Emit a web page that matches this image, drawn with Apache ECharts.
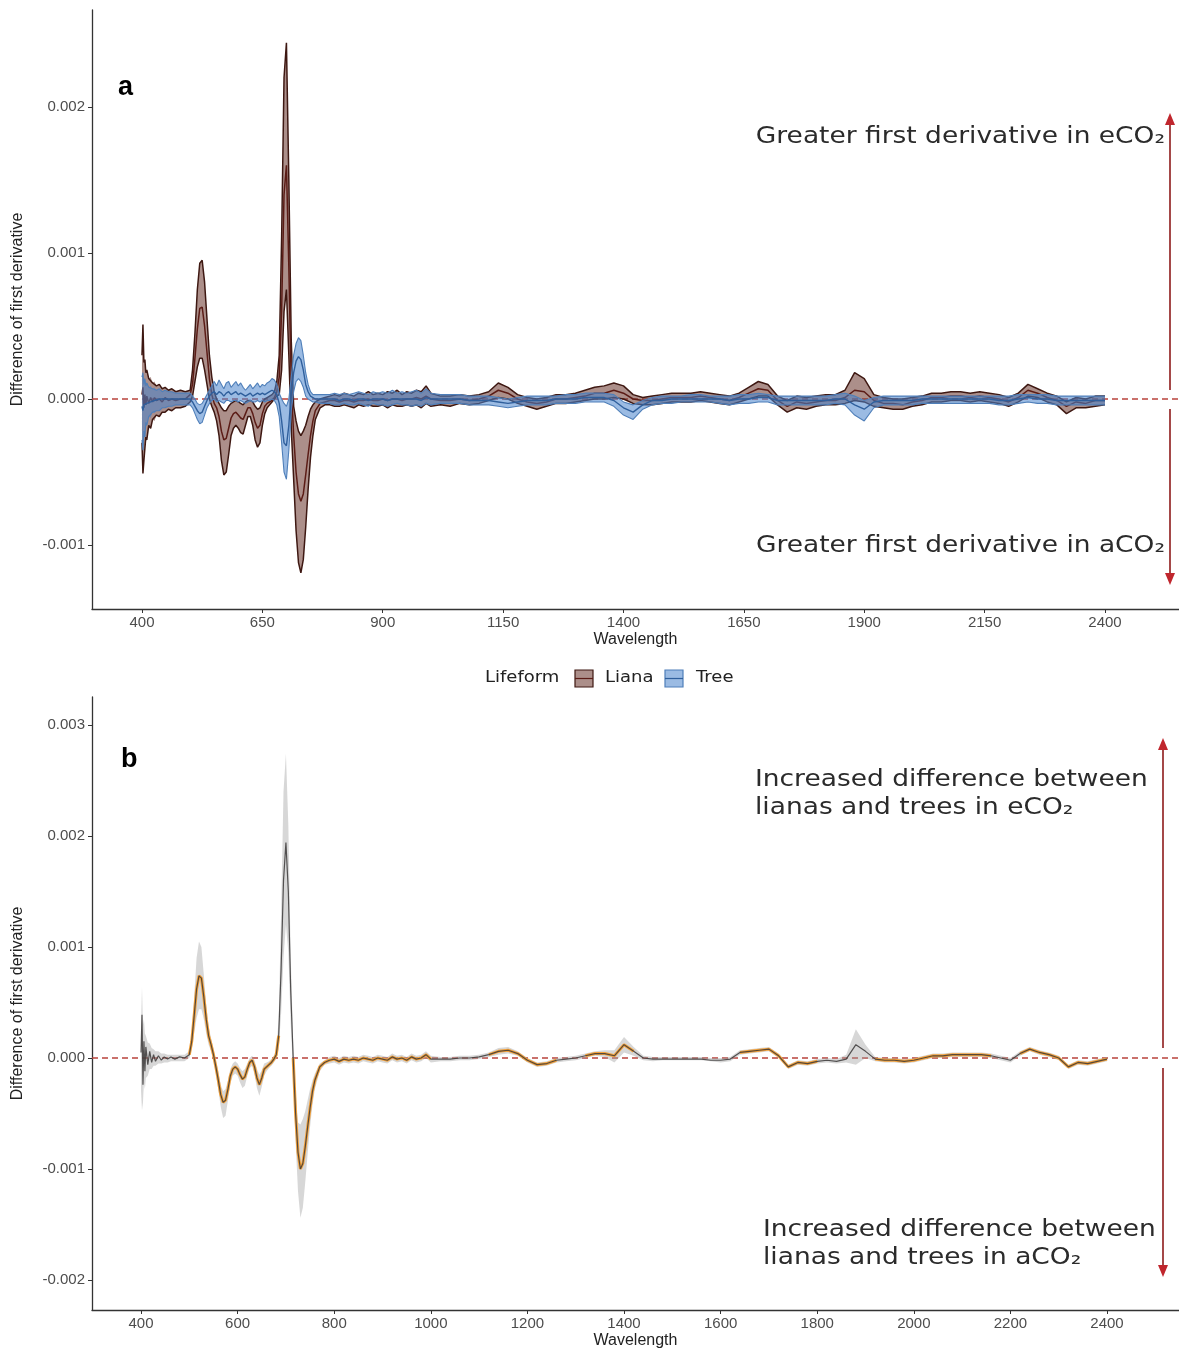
<!DOCTYPE html>
<html>
<head>
<meta charset="utf-8">
<script src="https://cdn.jsdelivr.net/npm/echarts@6/dist/echarts.min.js"></script>
<style>
  html, body { margin: 0; padding: 0; background: #ffffff; }
  #chart { width: 1179px; height: 1351px; }
</style>
</head>
<body>
<div id="chart"></div>
<script>
// Wavelength grid (nm) shared by every series below
const WAVELENGTH = [
  400, 402, 404, 406, 408, 410, 414, 418, 422, 426, 430, 436, 442, 448, 455, 462, 470, 480, 490,
  500, 505, 510, 515, 520, 525, 530, 535, 540, 545, 550, 555, 560, 565, 570, 575, 580, 585, 590, 595,
  600, 605, 610, 615, 620, 625, 630, 635, 640, 645, 650, 655, 660, 665, 670, 675, 680, 685, 690, 695,
  700, 705, 710, 715, 720, 725, 730, 735, 740, 745, 750, 755, 760, 770, 780,
  790, 800, 810, 820, 830, 840, 850, 860, 870, 880, 890, 900, 910, 920, 930, 940, 950, 960, 970, 980, 990, 1000,
  1020, 1040, 1060, 1080, 1100, 1120, 1140, 1160, 1180, 1200, 1220, 1240, 1260, 1280, 1300, 1320, 1340, 1360, 1380, 1400,
  1420, 1440, 1460, 1480, 1500, 1520, 1540, 1560, 1580, 1600, 1620, 1640, 1660, 1680, 1700, 1720, 1740, 1760, 1780, 1800,
  1820, 1840, 1860, 1880, 1900, 1920, 1940, 1960, 1980, 2000, 2020, 2040, 2060, 2080, 2100, 2120, 2140, 2160, 2180, 2200,
  2220, 2240, 2260, 2280, 2300, 2320, 2340, 2360, 2380, 2400
];

// All derivative differences are stored in units of 1e-5
const UNIT = 1e-5;

// Panel a: liana (eCO2 - aCO2) first-derivative difference, upper / mean / lower
const LIANA_UPPER = [
  30, 51, 25, 27, 18, 20, 14, 15, 11, 12, 9, 10, 7, 8, 6, 7, 5, 6, 5,
  6, 20, 45, 75, 93, 95, 80, 55, 30, 15, 5, 0, -3, -6, -8, -8, -5, -3, -2, -1,
  -2, -3, -4, -2, -1, -1, -2, -5, -7, -6, -2, 0, 1, 2, 3, 5, 12, 30, 110, 220,
  244, 150, 40, -5, -15, -22, -25, -22, -18, -12, -7, -4, -2, 0, 1,
  2, 3, 2, 4, 3, 2, 4, 3, 5, 3, 4, 3, 5, 4, 6, 3, 5, 4, 6, 5, 9, 4,
  2, 2, 3, 2, 3, 5, 11, 8, 3, 1, 0, 1, 3, 3, 4, 6, 8, 9, 11, 9,
  3, 1, 2, 3, 4, 4, 4, 5, 4, 3, 2, 4, 8, 12, 10, 2, -1, 2, 1, 2,
  3, 3, 6, 18, 14, 3, 1, 0, 0, 1, 2, 4, 4, 5, 5, 4, 5, 4, 3, 1,
  4, 10, 7, 4, 2, -2, 1, 0, 2, 2
];
const LIANA_MEAN = [
  3, 8, -6, 3, -4, 2, -3, 1, -2, 1, -1, 0, -2, 1, -1, 0, -1, 0, 0,
  3, 10, 28, 48, 62, 63, 50, 32, 14, 3, -3, -6, -12, -22, -28, -27, -20, -13, -10, -9,
  -11, -13, -14, -10, -6, -6, -10, -16, -20, -18, -10, -5, -3, -2, -1, 1, 5, 15, 60, 140,
  160, 90, 10, -25, -50, -65, -70, -65, -52, -38, -25, -15, -8, -3, -2,
  -1, -1, -2, -1, -1, -2, -1, -1, 0, -1, -1, 0, -1, 0, 0, -1, 0, 0, 1, 0, 2, 0,
  -1, -1, 0, -1, 0, 2, 6, 4, 0, -2, -3, -2, 0, 0, 1, 2, 4, 4, 6, 4,
  0, -1, -1, 0, 1, 1, 1, 2, 1, 0, -1, 1, 4, 7, 6, -1, -5, -2, -3, -2,
  -1, -1, 1, 6, 5, -1, -3, -3, -4, -2, -1, 1, 1, 2, 2, 1, 2, 1, 0, -2,
  1, 6, 4, 1, -1, -5, -2, -3, -1, -1
];
const LIANA_LOWER = [
  -30, -51, -42, -34, -26, -28, -18, -20, -14, -15, -11, -12, -9, -9, -7, -8, -6, -6, -5,
  -2, 2, 12, 22, 28, 28, 20, 10, 0, -5, -9, -15, -25, -42, -52, -50, -38, -25, -20, -18,
  -20, -23, -24, -18, -12, -12, -18, -28, -33, -30, -18, -10, -6, -4, -2, 0, 2, 3, 20, 60,
  75, 30, -20, -55, -90, -112, -119, -110, -88, -62, -40, -25, -14, -6, -4,
  -4, -5, -5, -4, -5, -6, -4, -5, -4, -5, -5, -4, -6, -4, -5, -5, -4, -5, -4, -6, -3, -5,
  -4, -5, -3, -4, -3, -1, 1, 0, -3, -5, -7, -5, -3, -3, -2, -1, 0, 0, 1, 0,
  -3, -4, -4, -3, -2, -2, -2, -1, -2, -3, -4, -2, 0, 2, 2, -4, -9, -6, -7, -5,
  -4, -4, -3, -1, -2, -5, -6, -7, -7, -5, -4, -2, -2, -1, -1, -2, -1, -2, -3, -5,
  -2, 2, 1, -2, -4, -10, -6, -6, -5, -4
];

// Panel a: tree first-derivative difference, upper / mean / lower
const TREE_UPPER = [
  15, 18, 10, 14, 9, 11, 8, 9, 7, 8, 6, 7, 5, 6, 5, 5, 4, 4, 4,
  4, 2, 0, -3, -4, -3, 0, 3, 6, 9, 12, 9, 13, 10, 7, 11, 12, 8, 10, 12,
  9, 11, 8, 6, 8, 10, 7, 9, 11, 8, 10, 9, 11, 12, 14, 13, 10, 4, 0, -3,
  -5, 0, 15, 30, 38, 42, 40, 30, 18, 10, 5, 3, 3, 3, 3,
  3, 4, 3, 4, 3, 4, 5, 4, 3, 5, 4, 5, 4, 6, 4, 5, 4, 5, 6, 4, 7, 4,
  3, 3, 3, 2, 2, 2, 1, 0, 1, 2, 2, 2, 2, 3, 3, 4, 4, 4, 3, -2,
  -4, -1, 1, 2, 2, 2, 3, 3, 2, 2, 2, 3, 3, 4, 3, 2, 2, 2, 2, 2,
  2, 3, 4, 2, -1, 1, 2, 2, 2, 2, 2, 2, 2, 2, 2, 2, 2, 2, 2, 2,
  3, 3, 3, 3, 2, 2, 2, 2, 2, 2
];
const TREE_MEAN = [
  -5, -8, -4, -5, -3, -3, -2, -2, -1, -1, -1, 0, 0, 0, 0, 0, 0, 0, 0,
  0, -2, -5, -8, -10, -9, -5, -1, 2, 4, 5, 3, 5, 4, 2, 4, 5, 3, 4, 5,
  3, 4, 3, 2, 3, 4, 2, 3, 4, 3, 4, 3, 4, 5, 6, 5, 3, -3, -15, -30,
  -32, -18, 5, 18, 26, 29, 27, 20, 10, 5, 2, 1, 0, 0, 0,
  0, 0, -1, 0, 0, -1, 0, 0, -1, 0, 0, 0, -1, 0, 0, 0, 0, 0, 0, -1, 1, 0,
  0, 0, 0, -1, -1, -1, -2, -3, -2, -1, -1, -1, 0, 0, 0, 1, 1, 1, -1, -6,
  -9, -4, -1, -1, 0, 0, 0, 0, 0, 0, -1, 0, 0, 1, 1, -1, -1, -1, -1, -1,
  -1, 0, 0, -4, -7, -2, -1, -1, -1, -1, 0, 0, 0, 0, 0, 0, 0, 0, -1, -1,
  0, 1, 0, 0, -1, -1, -1, -1, -1, -1
];
const TREE_LOWER = [
  -28, -35, -22, -26, -16, -18, -12, -13, -9, -10, -8, -8, -6, -6, -5, -5, -4, -4, -4,
  -4, -6, -10, -14, -17, -16, -11, -6, -3, -1, 0, -2, -1, -2, -3, -1, -1, -2, -1, -1,
  -2, -1, -2, -3, -2, -1, -2, -2, -1, -2, -1, -2, -1, -1, 0, -1, -4, -12, -30, -50,
  -55, -35, -8, 5, 12, 14, 12, 8, 2, 0, -1, -2, -2, -3, -3,
  -3, -4, -4, -3, -4, -4, -3, -4, -5, -3, -4, -4, -5, -4, -3, -4, -4, -5, -4, -5, -3, -4,
  -3, -3, -3, -4, -4, -4, -5, -6, -5, -4, -4, -4, -3, -3, -3, -2, -2, -2, -5, -11,
  -14, -7, -4, -3, -3, -2, -2, -2, -2, -3, -4, -3, -3, -2, -2, -4, -4, -4, -4, -4,
  -4, -3, -4, -11, -15, -6, -4, -4, -4, -4, -3, -3, -3, -3, -3, -3, -3, -3, -4, -4,
  -3, -2, -3, -3, -4, -4, -4, -4, -4, -4
];

// Panel b: liana-minus-tree difference (eCO2 vs aCO2), mean and confidence band
const DIFF_MEAN = [
  5, 39, -24, 15, -12, 10, -6, 6, -4, 3, -3, 2, -2, 1, -1, 1, -1, 1, 0,
  3, 15, 38, 62, 74, 72, 55, 35, 20, 12, 3, -8, -20, -33, -40, -38, -28, -16, -10, -8,
  -10, -15, -19, -17, -10, -4, -2, -8, -18, -24, -18, -10, -8, -6, -4, -1, 3, 20, 80, 160,
  194, 150, 60, 0, -50, -85, -100, -95, -80, -62, -45, -30, -20, -8, -4,
  -2, -1, -3, -1, -2, -1, -2, 0, -1, -2, 0, -1, -2, 1, -1, 0, -2, 1, -1, 0, 3, -1,
  -1, -1, 0, 0, 1, 3, 6, 7, 4, -2, -6, -5, -2, -1, 0, 2, 4, 4, 2, 12,
  6, 0, -1, -1, -1, -1, -1, -1, -2, -2, -1, 5, 6, 7, 8, 2, -8, -4, -5, -3,
  -2, -3, -1, 12, 6, -1, -2, -2, -3, -2, 0, 2, 2, 3, 3, 3, 3, 2, 0, -2,
  4, 8, 5, 3, 0, -8, -4, -5, -3, -1
];
const DIFF_UPPER = [
  30, 64, 30, 35, 22, 20, 14, 13, 9, 8, 6, 6, 4, 4, 3, 3, 3, 3, 3,
  6, 22, 55, 90, 105, 100, 75, 48, 28, 18, 8, -3, -12, -24, -30, -28, -20, -10, -5, -3,
  -5, -9, -12, -10, -5, 0, 2, -2, -10, -15, -11, -5, -4, -3, -1, 2, 8, 35, 130, 240,
  274, 210, 90, 15, -30, -58, -60, -55, -48, -38, -28, -20, -14, -5, -2,
  1, 2, 0, 2, 1, 2, 1, 3, 2, 1, 3, 2, 1, 4, 2, 3, 1, 4, 2, 3, 6, 2,
  1, 1, 2, 2, 3, 5, 9, 10, 6, 0, -4, -3, 0, 1, 2, 4, 6, 7, 7, 19,
  10, 2, 1, 1, 1, 1, 1, 1, 0, 0, 1, 7, 8, 9, 10, 4, -6, -2, -3, -1,
  0, -1, 3, 26, 12, 1, 0, 0, -1, 0, 2, 4, 4, 5, 5, 5, 5, 4, 2, 0,
  6, 10, 7, 5, 2, -6, -2, -3, -1, 1
];
const DIFF_LOWER = [
  -30, -47, -40, -22, -28, -18, -16, -10, -10, -7, -7, -5, -5, -4, -4, -3, -3, -3, -3,
  0, 8, 22, 36, 44, 44, 35, 22, 12, 6, -2, -14, -28, -44, -54, -52, -38, -23, -16, -14,
  -16, -22, -27, -25, -16, -9, -7, -15, -27, -34, -26, -16, -12, -9, -7, -4, -1, 8, 40, 90,
  120, 95, 30, -15, -75, -120, -144, -135, -112, -86, -62, -42, -28, -12, -6,
  -5, -4, -6, -4, -5, -4, -5, -3, -4, -5, -3, -4, -5, -2, -4, -3, -5, -2, -4, -3, 0, -4,
  -3, -3, -2, -2, -1, 1, 3, 4, 2, -4, -8, -7, -4, -3, -2, 0, 2, 1, -4, 5,
  2, -2, -3, -2, -2, -2, -2, -2, -3, -4, -3, 3, 4, 5, 6, 0, -10, -6, -7, -5,
  -4, -5, -4, -6, 0, -3, -4, -4, -5, -4, -2, 0, 0, 1, 1, 1, 1, 0, -2, -4,
  2, 6, 3, 1, -2, -10, -6, -7, -5, -3
];
// 1 where the panel-b difference is flagged significant (drawn in orange)
const DIFF_SIGNIFICANT = [
  0, 0, 0, 0, 0, 0, 0, 0, 0, 0, 0, 0, 0, 0, 0, 0, 0, 0, 0,
  1, 1, 1, 1, 1, 1, 1, 1, 1, 1, 1, 1, 1, 1, 1, 1, 1, 1, 1, 1,
  1, 1, 1, 1, 1, 1, 1, 1, 1, 1, 1, 1, 1, 1, 1, 1, 1, 1, 0, 0,
  0, 0, 0, 1, 1, 1, 1, 1, 1, 1, 1, 1, 1, 1, 1,
  1, 1, 1, 1, 1, 1, 1, 1, 1, 1, 1, 1, 1, 1, 1, 1, 1, 1, 1, 1, 1, 1,
  0, 0, 0, 0, 0, 1, 1, 1, 1, 1, 1, 1, 1, 0, 0, 1, 1, 1, 1, 1,
  1, 0, 0, 0, 0, 0, 0, 0, 0, 0, 0, 1, 1, 1, 1, 1, 1, 1, 1, 1,
  0, 0, 0, 0, 0, 1, 1, 1, 1, 1, 1, 1, 1, 1, 1, 1, 1, 1, 0, 0,
  1, 1, 1, 1, 1, 1, 1, 1, 1, 1
];

// Axis ticks
const X_TICKS_A = [400, 650, 900, 1150, 1400, 1650, 1900, 2150, 2400];
const Y_TICKS_A = [-0.001, 0, 0.001, 0.002];
const X_TICKS_B = [400, 600, 800, 1000, 1200, 1400, 1600, 1800, 2000, 2200, 2400];
const Y_TICKS_B = [-0.002, -0.001, 0, 0.001, 0.002, 0.003];

const LIFEFORMS = ['Liana', 'Tree'];

// ---------------------------------------------------------------------------

const toPoints = (arr) => WAVELENGTH.map((w, i) => [w, arr[i] == null ? null : arr[i] * UNIT]);

const COL = {
  lianaFill: 'rgba(112, 62, 54, 0.58)',
  lianaEdge: '#3e1812',
  lianaMean: '#5b1c16',
  treeFill: 'rgba(72, 132, 204, 0.55)',
  treeEdge: '#4f7fb9',
  treeMean: '#2f5f9c',
  band: 'rgba(160, 160, 160, 0.42)',
  orange: '#f3a13a',
  dark: '#3b3838',
  zero: '#b9433d',
  axis: '#333333',
  tick: '#4d4d4d'
};

const AXIS_FONT = 'Liberation Sans, Arial, sans-serif';

// Filled ribbon between two arrays, placed through the axis scales
function ribbon(idx, upper, lower, fill, z) {
  const up = toPoints(upper), lo = toPoints(lower).reverse();
  return {
    type: 'custom', xAxisIndex: idx, yAxisIndex: idx, z, silent: true, animation: false,
    data: [[WAVELENGTH[0], 0]],
    renderItem: function (params, api) {
      const pts = up.map(p => api.coord(p)).concat(lo.map(p => api.coord(p)));
      return { type: 'polygon', shape: { points: pts }, style: { fill: fill } };
    }
  };
}

function line(idx, arr, color, width, z, opacity) {
  return {
    type: 'line', xAxisIndex: idx, yAxisIndex: idx, data: toPoints(arr),
    showSymbol: false, symbol: 'none', z, silent: true, animation: false,
    lineStyle: { color, width, opacity: opacity == null ? 1 : opacity }, connectNulls: false
  };
}

// Dashed reference line at zero across the full axis extent
function zeroLine(idx, xMin, xMax) {
  return {
    type: 'line', xAxisIndex: idx, yAxisIndex: idx, z: 1, silent: true, animation: false,
    data: [[xMin, 0], [xMax, 0]], showSymbol: false, symbol: 'none',
    lineStyle: { color: COL.zero, type: [6, 4], width: 1.3 }
  };
}

function xAxis(idx, min, max, ticks) {
  return {
    gridIndex: idx, type: 'value', min, max,
    axisLine: { show: true, onZero: false, lineStyle: { color: COL.axis, width: 1.3 } },
    axisTick: { show: true, customValues: ticks, length: 4, lineStyle: { color: COL.axis, width: 1 } },
    axisLabel: { customValues: ticks, color: COL.tick, fontSize: 15, fontFamily: AXIS_FONT, margin: 6,
      formatter: v => String(Math.round(v)) },
    splitLine: { show: false },
    name: 'Wavelength', nameLocation: 'middle', nameGap: 23,
    nameTextStyle: { color: '#222', fontSize: 16, fontFamily: AXIS_FONT }
  };
}

function yAxis(idx, min, max, ticks) {
  return {
    gridIndex: idx, type: 'value', min, max,
    axisLine: { show: true, onZero: false, lineStyle: { color: COL.axis, width: 1.3 } },
    axisTick: { show: true, customValues: ticks, length: 4, lineStyle: { color: COL.axis, width: 1 } },
    axisLabel: {
      customValues: ticks, color: COL.tick, fontSize: 15, fontFamily: AXIS_FONT, margin: 7,
      formatter: v => v.toFixed(3)
    },
    splitLine: { show: false },
    name: 'Difference of first derivative', nameLocation: 'middle', nameGap: 66, nameRotate: 90,
    nameTextStyle: { color: '#222', fontSize: 16, fontFamily: 'Liberation Sans Narrow, Liberation Sans, Arial, sans-serif' }
  };
}

const X_RANGE_A = [296.2, 2553.7];
const X_RANGE_B = [298.5, 2549];

const sigLine = DIFF_MEAN.map((v, i) => DIFF_SIGNIFICANT[i] ? v : null);

const series = [
  zeroLine(0, X_RANGE_A[0], X_RANGE_A[1]),
  ribbon(0, LIANA_UPPER, LIANA_LOWER, COL.lianaFill, 2),
  line(0, LIANA_UPPER, COL.lianaEdge, 1.5, 3),
  line(0, LIANA_LOWER, COL.lianaEdge, 1.5, 3),
  line(0, LIANA_MEAN, COL.lianaMean, 1.5, 3),
  ribbon(0, TREE_UPPER, TREE_LOWER, COL.treeFill, 4),
  line(0, TREE_UPPER, COL.treeEdge, 1.1, 5),
  line(0, TREE_LOWER, COL.treeEdge, 1.1, 5),
  line(0, TREE_MEAN, COL.treeMean, 1.4, 5),

  zeroLine(1, X_RANGE_B[0], X_RANGE_B[1]),
  ribbon(1, DIFF_UPPER, DIFF_LOWER, COL.band, 2),
  line(1, sigLine, COL.orange, 3, 3),
  line(1, DIFF_MEAN, COL.dark, 1.2, 4, 0.85)
];

// Text annotations, arrows, panel letters and the lifeform key
const TXT = 'DejaVu Sans, Verdana, sans-serif';
const STRETCH = 1.15;
const ARROW_LINE = '#8e1b1b', ARROW_HEAD = '#c0262d';

function annotation(x, y, text, align) {
  return {
    type: 'text', x, y, scaleX: STRETCH, silent: true,
    style: { text, fill: '#2b2b2b', font: '23px ' + TXT, textAlign: align, textVerticalAlign: 'middle', lineHeight: 28 }
  };
}
function arrow(x, yTop, yGapTop, yGapBottom, yBottom) {
  return [
    { type: 'line', silent: true, shape: { x1: x, y1: yTop + 10, x2: x, y2: yGapTop }, style: { stroke: ARROW_LINE, lineWidth: 1.6 } },
    { type: 'line', silent: true, shape: { x1: x, y1: yGapBottom, x2: x, y2: yBottom - 10 }, style: { stroke: ARROW_LINE, lineWidth: 1.6 } },
    { type: 'polygon', silent: true, shape: { points: [[x, yTop], [x - 5, yTop + 12], [x + 5, yTop + 12]] }, style: { fill: ARROW_HEAD } },
    { type: 'polygon', silent: true, shape: { points: [[x, yBottom], [x - 5, yBottom - 12], [x + 5, yBottom - 12]] }, style: { fill: ARROW_HEAD } }
  ];
}
function panelLetter(x, y, t) {
  return { type: 'text', x, y, silent: true, style: { text: t, fill: '#000', font: 'bold 27px ' + AXIS_FONT, textVerticalAlign: 'middle' } };
}
function keySwatch(x, y, fill, stroke, mid) {
  return [
    { type: 'rect', silent: true, shape: { x, y, width: 18, height: 17 }, style: { fill, stroke, lineWidth: 1.2 } },
    { type: 'line', silent: true, shape: { x1: x, y1: y + 8.5, x2: x + 18, y2: y + 8.5 }, style: { stroke: mid, lineWidth: 1.2 } }
  ];
}
function keyText(x, y, t) {
  return { type: 'text', x, y, scaleX: 1.2, silent: true, style: { text: t, fill: '#222', font: '15px ' + TXT, textVerticalAlign: 'middle' } };
}

const graphic = [].concat(
  annotation(1165, 137, 'Greater first derivative in eCO\u2082', 'right'),
  annotation(1165, 546, 'Greater first derivative in aCO\u2082', 'right'),
  arrow(1170, 113, 390, 409, 585),
  annotation(755, 794, 'Increased difference between\nlianas and trees in eCO\u2082', 'left'),
  annotation(763, 1244, 'Increased difference between\nlianas and trees in aCO\u2082', 'left'),
  arrow(1163, 738, 1048, 1068, 1277),
  panelLetter(118, 88, 'a'),
  panelLetter(121, 760, 'b'),
  keyText(485, 678, 'Lifeform'),
  keySwatch(575, 670, COL.lianaFill, COL.lianaEdge, COL.lianaMean),
  keyText(605, 678, LIFEFORMS[0]),
  keySwatch(665, 670, COL.treeFill, COL.treeEdge, COL.treeMean),
  keyText(696, 678, LIFEFORMS[1])
);

const option = {
  backgroundColor: '#ffffff',
  animation: false,
  grid: [
    { left: 92, top: 10, width: 1087, height: 599, outerBoundsMode: 'none', containLabel: false },
    { left: 92, top: 697, width: 1087, height: 613, outerBoundsMode: 'none', containLabel: false }
  ],
  xAxis: [xAxis(0, X_RANGE_A[0], X_RANGE_A[1], X_TICKS_A), xAxis(1, X_RANGE_B[0], X_RANGE_B[1], X_TICKS_B)],
  yAxis: [yAxis(0, -0.001438, 0.002664, Y_TICKS_A), yAxis(1, -0.00227, 0.003252, Y_TICKS_B)],
  series,
  graphic
};

const chart = echarts.init(document.getElementById('chart'), null, { renderer: 'canvas' });
chart.setOption(option);
</script>
</body>
</html>
